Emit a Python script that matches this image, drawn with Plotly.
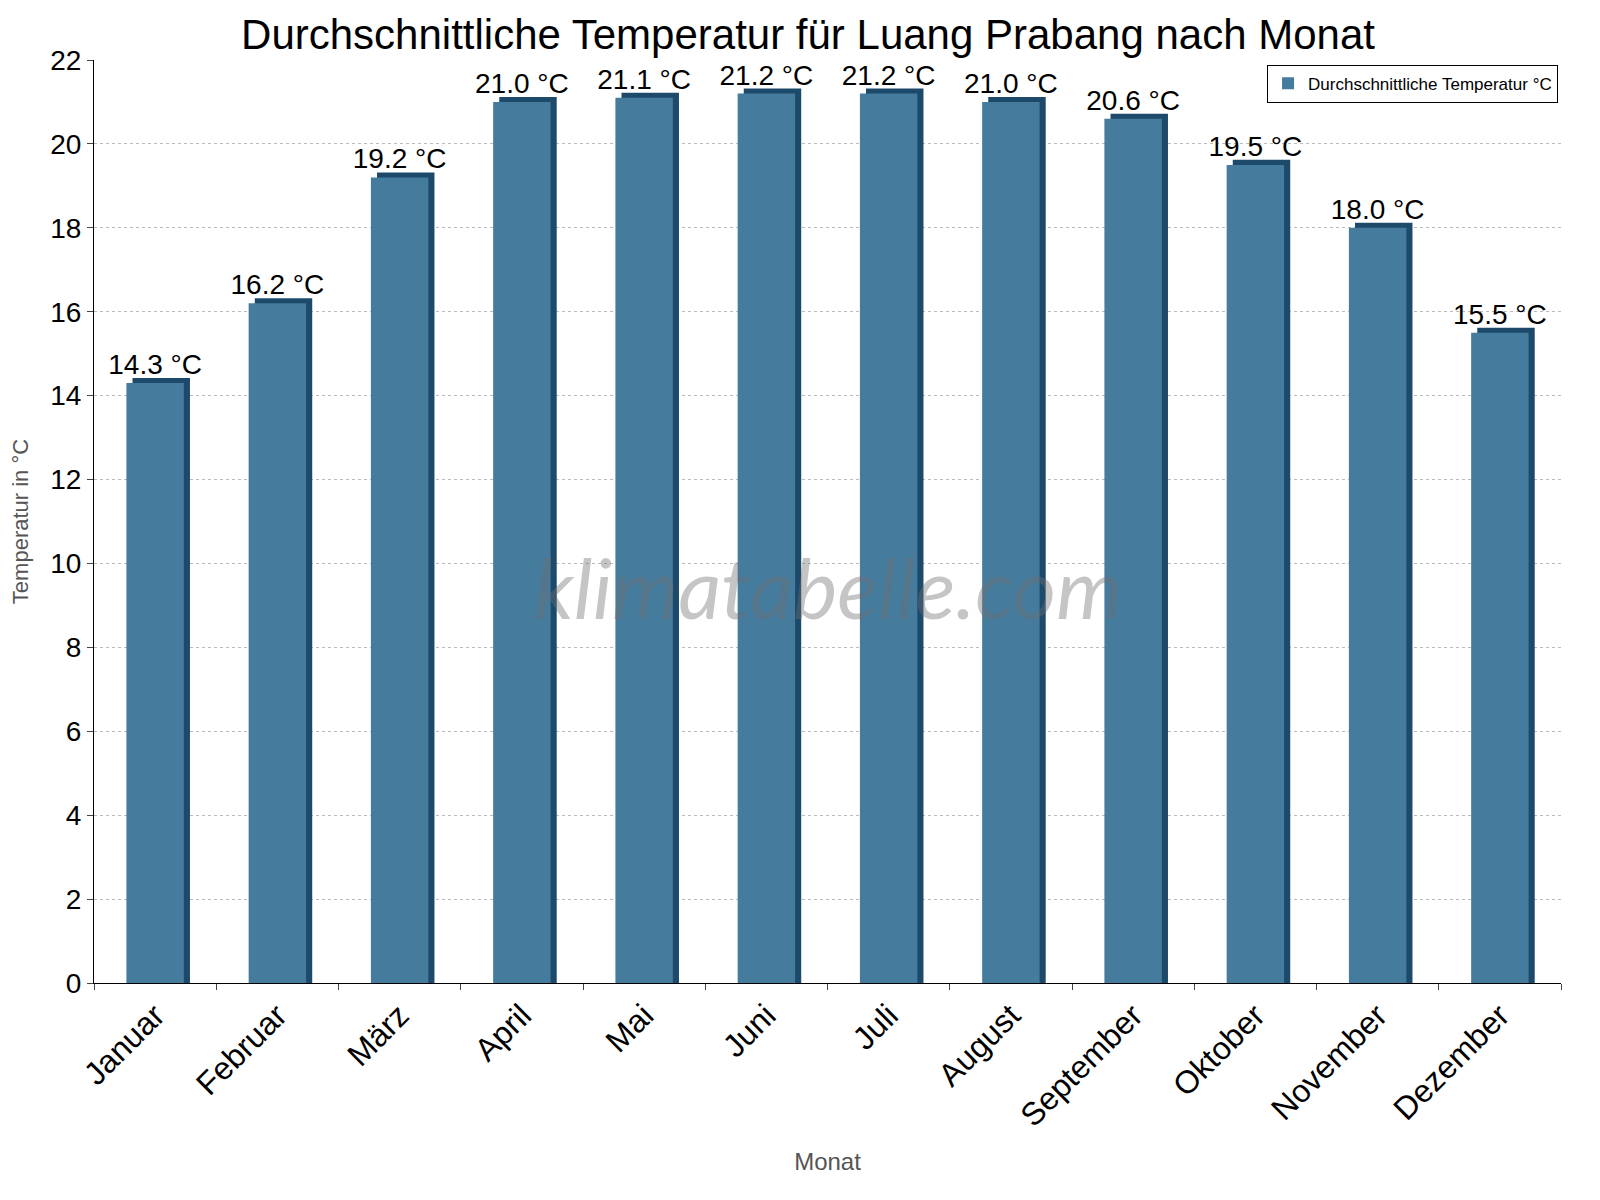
import plotly.graph_objects as go

months = ["Januar", "Februar", "März", "April", "Mai", "Juni", "Juli",
          "August", "September", "Oktober", "November", "Dezember"]
temps = [14.3, 16.2, 19.2, 21.0, 21.1, 21.2, 21.2, 21.0, 20.6, 19.5, 18.0, 15.5]
labels = [f"{t:.1f} °C" for t in temps]

fig = go.Figure()
# darker "3D" side/top
fig.add_trace(go.Bar(
    x=months, y=[t + 0.12 for t in temps], width=0.47, offset=-0.185,
    marker=dict(color="#1d4a6b", line=dict(width=0)),
    showlegend=False, hoverinfo="skip"
))
fig.add_trace(go.Bar(
    x=months, y=temps, width=0.47, offset=-0.235,
    name="Durchschnittliche Temperatur °C",
    marker=dict(color="#457b9d", line=dict(width=0)),
    text=labels, textposition="outside", cliponaxis=False,
    constraintext="none",
    textfont=dict(size=28, color="black"),
))

fig.add_annotation(
    text="<i>klimatabelle.com</i>", x=0.5, y=0.43, xref="paper", yref="paper",
    showarrow=False, font=dict(size=84, color="rgba(110,110,110,0.4)", family="Lato"),
)

fig.update_layout(
    width=1600, height=1200,
    barmode="overlay",
    plot_bgcolor="white", paper_bgcolor="white",
    font=dict(family="Arial, Liberation Sans", color="black"),
    title=dict(text="Durchschnittliche Temperatur für Luang Prabang nach Monat",
               x=0.5, y=0.99, yanchor="top", xanchor="center", font=dict(size=42)),
    margin=dict(l=83, r=47, t=52, b=225),
    legend=dict(x=0.998, y=0.995, xanchor="right", yanchor="top",
                bordercolor="black", borderwidth=1, font=dict(size=17),
                itemsizing="constant"),
    xaxis=dict(
        title=dict(text="Monat", font=dict(size=24, color="#555"), standoff=20),
        tickangle=-45, tickfont=dict(size=32), tickson="boundaries",
        ticks="outside", ticklen=6, showline=True, linecolor="black",
    ),
    yaxis=dict(
        title=dict(text="Temperatur in °C", font=dict(size=22, color="#555")),
        range=[0, 22], dtick=2, tickfont=dict(size=28),
        showgrid=True, gridcolor="#bbb", griddash="dot",
        ticks="outside", ticklen=6, showline=True, linecolor="black",
        zeroline=False,
    ),
)

fig.write_html("out.html")
